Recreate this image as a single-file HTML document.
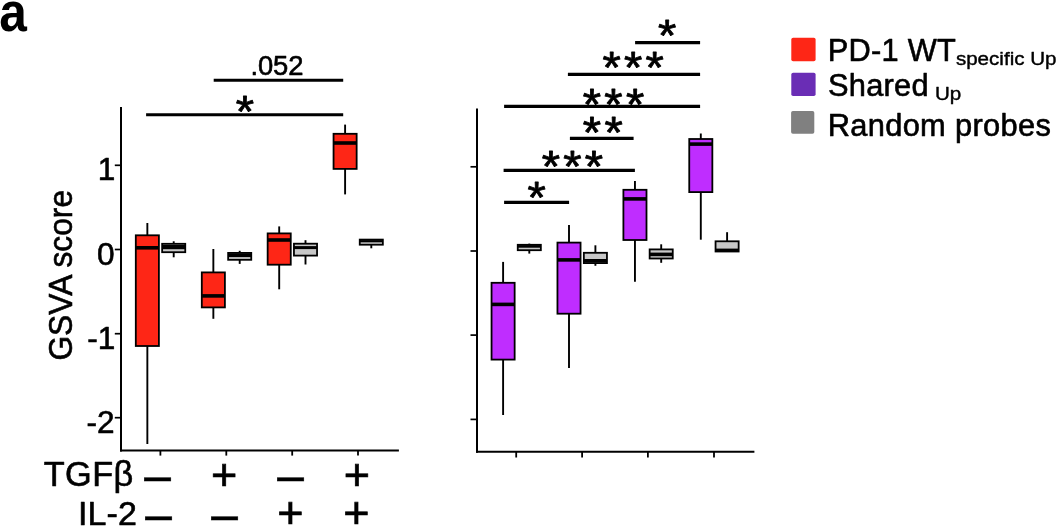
<!DOCTYPE html>
<html lang="en"><head><meta charset="utf-8"><title>Figure a</title>
<style>
html,body{margin:0;padding:0;background:#fff;}
body{width:1057px;height:526px;overflow:hidden;}
svg{display:block;font-family:"Liberation Sans", Arial, Helvetica, sans-serif;fill:#000;}
svg rect, svg line{shape-rendering:auto;}
</style></head><body>
<svg width="1057" height="526" viewBox="0 0 1057 526">
<rect x="0" y="0" width="1057" height="526" fill="#fff"/>
<line x1="121.0" y1="107" x2="121.0" y2="451.6" stroke="#000" stroke-width="2.0" />
<line x1="120.0" y1="450.6" x2="398.9" y2="450.6" stroke="#000" stroke-width="2.0" />
<line x1="114.8" y1="165.3" x2="121.0" y2="165.3" stroke="#000" stroke-width="1.7" />
<line x1="114.8" y1="249.5" x2="121.0" y2="249.5" stroke="#000" stroke-width="1.7" />
<line x1="114.8" y1="333.7" x2="121.0" y2="333.7" stroke="#000" stroke-width="1.7" />
<line x1="114.8" y1="417.7" x2="121.0" y2="417.7" stroke="#000" stroke-width="1.7" />
<line x1="160.4" y1="450.6" x2="160.4" y2="455.6" stroke="#000" stroke-width="1.8" />
<line x1="226.3" y1="450.6" x2="226.3" y2="455.6" stroke="#000" stroke-width="1.8" />
<line x1="292.2" y1="450.6" x2="292.2" y2="455.6" stroke="#000" stroke-width="1.8" />
<line x1="358.0" y1="450.6" x2="358.0" y2="455.6" stroke="#000" stroke-width="1.8" />
<text transform="translate(115.39999999999999,180.3)" font-size="31.6" text-anchor="end" font-weight="normal"  stroke="#000" stroke-width="0.6" stroke-linejoin="round">1</text>
<text transform="translate(114.6,264.5)" font-size="31.6" text-anchor="end" font-weight="normal"  stroke="#000" stroke-width="0.6" stroke-linejoin="round">0</text>
<text transform="translate(115.39999999999999,348.7)" font-size="31.6" text-anchor="end" font-weight="normal"  stroke="#000" stroke-width="0.6" stroke-linejoin="round">-1</text>
<text transform="translate(114.6,432.7)" font-size="31.6" text-anchor="end" font-weight="normal"  stroke="#000" stroke-width="0.6" stroke-linejoin="round">-2</text>
<line x1="147.35" y1="223" x2="147.35" y2="235.3" stroke="#000" stroke-width="1.9" />
<line x1="147.35" y1="346" x2="147.35" y2="444" stroke="#000" stroke-width="1.9" />
<rect x="135.79999999999998" y="235.3" width="23.10" height="110.70" fill="#fe2616" stroke="#000" stroke-width="1.8"/>
<line x1="135.79999999999998" y1="247.8" x2="158.9" y2="247.8" stroke="#000" stroke-width="3.6" />
<line x1="173.7" y1="241.3" x2="173.7" y2="243.8" stroke="#000" stroke-width="1.9" />
<line x1="173.7" y1="252.2" x2="173.7" y2="257.3" stroke="#000" stroke-width="1.9" />
<rect x="162.14999999999998" y="243.8" width="23.10" height="8.40" fill="#c8c8c8" stroke="#000" stroke-width="1.8"/>
<line x1="162.14999999999998" y1="247.0" x2="185.25" y2="247.0" stroke="#000" stroke-width="4.4" />
<line x1="213.35" y1="249" x2="213.35" y2="272.4" stroke="#000" stroke-width="1.9" />
<line x1="213.35" y1="307.4" x2="213.35" y2="318.8" stroke="#000" stroke-width="1.9" />
<rect x="201.79999999999998" y="272.4" width="23.10" height="35.00" fill="#fe2616" stroke="#000" stroke-width="1.8"/>
<line x1="201.79999999999998" y1="295.9" x2="224.9" y2="295.9" stroke="#000" stroke-width="3.6" />
<line x1="239.7" y1="250.8" x2="239.7" y2="252.9" stroke="#000" stroke-width="1.9" />
<line x1="239.7" y1="259.8" x2="239.7" y2="263.9" stroke="#000" stroke-width="1.9" />
<rect x="228.14999999999998" y="252.9" width="23.10" height="6.90" fill="#c8c8c8" stroke="#000" stroke-width="1.8"/>
<line x1="228.14999999999998" y1="255.2" x2="251.25" y2="255.2" stroke="#000" stroke-width="3.8" />
<line x1="279.2" y1="226.4" x2="279.2" y2="233.4" stroke="#000" stroke-width="1.9" />
<line x1="279.2" y1="264.7" x2="279.2" y2="289.3" stroke="#000" stroke-width="1.9" />
<rect x="267.65" y="233.4" width="23.10" height="31.30" fill="#fe2616" stroke="#000" stroke-width="1.8"/>
<line x1="267.65" y1="240" x2="290.75" y2="240" stroke="#000" stroke-width="3.6" />
<line x1="305.5" y1="240.2" x2="305.5" y2="243.7" stroke="#000" stroke-width="1.9" />
<line x1="305.5" y1="255.6" x2="305.5" y2="264.5" stroke="#000" stroke-width="1.9" />
<rect x="293.95" y="243.7" width="23.10" height="11.90" fill="#c8c8c8" stroke="#000" stroke-width="1.8"/>
<line x1="293.95" y1="247.6" x2="317.05" y2="247.6" stroke="#000" stroke-width="3" />
<line x1="345.1" y1="124.6" x2="345.1" y2="133.8" stroke="#000" stroke-width="1.9" />
<line x1="345.1" y1="168.9" x2="345.1" y2="194.4" stroke="#000" stroke-width="1.9" />
<rect x="333.55" y="133.8" width="23.10" height="35.10" fill="#fe2616" stroke="#000" stroke-width="1.8"/>
<line x1="333.55" y1="143.0" x2="356.65000000000003" y2="143.0" stroke="#000" stroke-width="3.6" />
<line x1="371.3" y1="244.7" x2="371.3" y2="248.3" stroke="#000" stroke-width="1.9" />
<rect x="359.75" y="239.6" width="23.10" height="5.10" fill="#c8c8c8" stroke="#000" stroke-width="1.8"/>
<line x1="359.75" y1="241.2" x2="382.85" y2="241.2" stroke="#000" stroke-width="2.2" />
<line x1="213.7" y1="80.3" x2="343.2" y2="80.3" stroke="#000" stroke-width="3.1" />
<line x1="146.1" y1="114.7" x2="343.2" y2="114.7" stroke="#000" stroke-width="3.1" />
<text transform="translate(250.4,75.4)" font-size="27.4" text-anchor="start" font-weight="normal"  stroke="#000" stroke-width="0.6" stroke-linejoin="round" textLength="53.0" lengthAdjust="spacing">.052</text>
<text transform="translate(246.43,126.88) scale(1,0.955)" font-size="47" text-anchor="middle" letter-spacing="3.27" stroke="#000" stroke-width="0.9" stroke-linejoin="round">*</text>
<line x1="477" y1="108.4" x2="477" y2="452.7" stroke="#000" stroke-width="2.0" />
<line x1="476.0" y1="451.7" x2="754.4" y2="451.7" stroke="#000" stroke-width="2.0" />
<line x1="470.5" y1="166.8" x2="477" y2="166.8" stroke="#000" stroke-width="1.7" />
<line x1="470.5" y1="251.0" x2="477" y2="251.0" stroke="#000" stroke-width="1.7" />
<line x1="470.5" y1="335.1" x2="477" y2="335.1" stroke="#000" stroke-width="1.7" />
<line x1="470.5" y1="419.4" x2="477" y2="419.4" stroke="#000" stroke-width="1.7" />
<line x1="516.2" y1="451.7" x2="516.2" y2="457.5" stroke="#000" stroke-width="1.8" />
<line x1="582.1" y1="451.7" x2="582.1" y2="457.5" stroke="#000" stroke-width="1.8" />
<line x1="647.9" y1="451.7" x2="647.9" y2="457.5" stroke="#000" stroke-width="1.8" />
<line x1="714.0" y1="451.7" x2="714.0" y2="457.5" stroke="#000" stroke-width="1.8" />
<line x1="503.1" y1="261.9" x2="503.1" y2="282.8" stroke="#000" stroke-width="1.9" />
<line x1="503.1" y1="359.6" x2="503.1" y2="415.0" stroke="#000" stroke-width="1.9" />
<rect x="491.55" y="282.8" width="23.10" height="76.80" fill="#bf2dff" stroke="#000" stroke-width="1.8"/>
<line x1="491.55" y1="304.4" x2="514.65" y2="304.4" stroke="#000" stroke-width="3.6" />
<line x1="529.3" y1="243.6" x2="529.3" y2="244.8" stroke="#000" stroke-width="1.9" />
<line x1="529.3" y1="250.2" x2="529.3" y2="253.6" stroke="#000" stroke-width="1.9" />
<rect x="517.75" y="244.8" width="23.10" height="5.40" fill="#c8c8c8" stroke="#000" stroke-width="1.8"/>
<line x1="517.75" y1="246.4" x2="540.8499999999999" y2="246.4" stroke="#000" stroke-width="2.6" />
<line x1="569.0" y1="225.1" x2="569.0" y2="242.6" stroke="#000" stroke-width="1.9" />
<line x1="569.0" y1="313.7" x2="569.0" y2="368.0" stroke="#000" stroke-width="1.9" />
<rect x="557.45" y="242.6" width="23.10" height="71.10" fill="#bf2dff" stroke="#000" stroke-width="1.8"/>
<line x1="557.45" y1="259.9" x2="580.55" y2="259.9" stroke="#000" stroke-width="3.6" />
<line x1="595.4" y1="245.3" x2="595.4" y2="252.8" stroke="#000" stroke-width="1.9" />
<line x1="595.4" y1="263.1" x2="595.4" y2="265.8" stroke="#000" stroke-width="1.9" />
<rect x="583.85" y="252.8" width="23.10" height="10.30" fill="#c8c8c8" stroke="#000" stroke-width="1.8"/>
<line x1="583.85" y1="260.8" x2="606.9499999999999" y2="260.8" stroke="#000" stroke-width="3.6" />
<line x1="634.95" y1="181.1" x2="634.95" y2="189.8" stroke="#000" stroke-width="1.9" />
<line x1="634.95" y1="240.0" x2="634.95" y2="281.8" stroke="#000" stroke-width="1.9" />
<rect x="623.4000000000001" y="189.8" width="23.10" height="50.20" fill="#bf2dff" stroke="#000" stroke-width="1.8"/>
<line x1="623.4000000000001" y1="198.9" x2="646.5" y2="198.9" stroke="#000" stroke-width="3.6" />
<line x1="661.2" y1="244.3" x2="661.2" y2="249.4" stroke="#000" stroke-width="1.9" />
<line x1="661.2" y1="258.5" x2="661.2" y2="262.8" stroke="#000" stroke-width="1.9" />
<rect x="649.6500000000001" y="249.4" width="23.10" height="9.10" fill="#c8c8c8" stroke="#000" stroke-width="1.8"/>
<line x1="649.6500000000001" y1="254.4" x2="672.75" y2="254.4" stroke="#000" stroke-width="3.6" />
<line x1="700.8" y1="133.5" x2="700.8" y2="139.0" stroke="#000" stroke-width="1.9" />
<line x1="700.8" y1="192.1" x2="700.8" y2="239.7" stroke="#000" stroke-width="1.9" />
<rect x="689.25" y="139.0" width="23.10" height="53.10" fill="#bf2dff" stroke="#000" stroke-width="1.8"/>
<line x1="689.25" y1="144.1" x2="712.3499999999999" y2="144.1" stroke="#000" stroke-width="3.6" />
<line x1="727.1" y1="232.2" x2="727.1" y2="241.3" stroke="#000" stroke-width="1.9" />
<rect x="715.5500000000001" y="241.3" width="23.10" height="10.20" fill="#c8c8c8" stroke="#000" stroke-width="1.8"/>
<line x1="715.5500000000001" y1="249.9" x2="738.65" y2="249.9" stroke="#000" stroke-width="2.6" />
<line x1="635.1" y1="42.6" x2="700.1" y2="42.6" stroke="#000" stroke-width="3.1" />
<line x1="567.9" y1="74.4" x2="700.1" y2="74.4" stroke="#000" stroke-width="3.1" />
<line x1="504.1" y1="106.4" x2="700.1" y2="106.4" stroke="#000" stroke-width="3.1" />
<line x1="569.9" y1="138.4" x2="633.6" y2="138.4" stroke="#000" stroke-width="3.1" />
<line x1="503.6" y1="170.4" x2="634.9" y2="170.4" stroke="#000" stroke-width="3.1" />
<line x1="504.1" y1="202.4" x2="569.1" y2="202.4" stroke="#000" stroke-width="3.1" />
<text transform="translate(668.83,50.58) scale(1,0.955)" font-size="47" text-anchor="middle" letter-spacing="3.27" stroke="#000" stroke-width="0.9" stroke-linejoin="round">*</text>
<text transform="translate(634.73,82.78) scale(1,0.955)" font-size="47" text-anchor="middle" letter-spacing="3.27" stroke="#000" stroke-width="0.9" stroke-linejoin="round">***</text>
<text transform="translate(615.13,120.18) scale(1,0.955)" font-size="47" text-anchor="middle" letter-spacing="3.27" stroke="#000" stroke-width="0.9" stroke-linejoin="round">***</text>
<text transform="translate(604.43,147.58) scale(1,0.955)" font-size="47" text-anchor="middle" letter-spacing="3.27" stroke="#000" stroke-width="0.9" stroke-linejoin="round">**</text>
<text transform="translate(574.03,182.48) scale(1,0.955)" font-size="47" text-anchor="middle" letter-spacing="3.27" stroke="#000" stroke-width="0.9" stroke-linejoin="round">***</text>
<text transform="translate(538.33,213.28) scale(1,0.955)" font-size="47" text-anchor="middle" letter-spacing="3.27" stroke="#000" stroke-width="0.9" stroke-linejoin="round">*</text>
<rect x="791.3" y="37.7" width="24.3" height="23.5" rx="1.8" fill="#fe2616"/>
<rect x="791.3" y="72.8" width="24.3" height="23.2" rx="1.8" fill="#6a2db5"/>
<rect x="791.1" y="110.9" width="23.2" height="22.9" rx="1.8" fill="#808080"/>
<text transform="translate(827.7,60.7)" font-size="30.8" text-anchor="start" font-weight="normal"  stroke="#000" stroke-width="0.6" stroke-linejoin="round" textLength="128.2" lengthAdjust="spacing">PD-1 WT</text>
<text transform="translate(955.9,65.0) scale(1,0.9)" font-size="20.4" text-anchor="start" font-weight="normal"  stroke="#000" stroke-width="0.45" stroke-linejoin="round" textLength="100.6" lengthAdjust="spacingAndGlyphs">specific Up</text>
<text transform="translate(828.1,96.0)" font-size="30.8" text-anchor="start" font-weight="normal"  stroke="#000" stroke-width="0.6" stroke-linejoin="round" textLength="100.5" lengthAdjust="spacing">Shared</text>
<text transform="translate(935.0,99.9) scale(1,0.9)" font-size="20.4" text-anchor="start" font-weight="normal"  stroke="#000" stroke-width="0.45" stroke-linejoin="round" textLength="26.3" lengthAdjust="spacingAndGlyphs">Up</text>
<text transform="translate(827.7,135.6)" font-size="30.8" text-anchor="start" font-weight="normal"  stroke="#000" stroke-width="0.6" stroke-linejoin="round" textLength="223.1" lengthAdjust="spacing">Random probes</text>
<text transform="translate(-0.64,30.9) scale(0.882,1)" font-size="56.3" text-anchor="start" font-weight="bold" >a</text>
<text transform="translate(71.9,360.6) rotate(-90) scale(0.943,1)" font-size="33.7" text-anchor="start" font-weight="normal"  stroke="#000" stroke-width="0.6" stroke-linejoin="round">GSVA score</text>
<text transform="translate(43.75,485.9)" font-size="34.3" text-anchor="start" font-weight="normal"  stroke="#000" stroke-width="0.6" stroke-linejoin="round" textLength="89.5" lengthAdjust="spacing">TGFβ</text>
<text transform="translate(77.9,524.7)" font-size="34.0" text-anchor="start" font-weight="normal"  stroke="#000" stroke-width="0.6" stroke-linejoin="round" textLength="59.1" lengthAdjust="spacing">IL-2</text>
<text x="144.30" y="491.62" font-size="47.8" stroke="#000" stroke-width="0.5">–</text>
<text x="210.96" y="489.76" font-size="45" stroke="#000" stroke-width="0.7">+</text>
<text x="277.30" y="492.32" font-size="47.8" stroke="#000" stroke-width="0.5">–</text>
<text x="343.66" y="489.76" font-size="45" stroke="#000" stroke-width="0.7">+</text>
<text x="145.20" y="530.62" font-size="47.8" stroke="#000" stroke-width="0.5">–</text>
<text x="211.20" y="530.72" font-size="47.8" stroke="#000" stroke-width="0.5">–</text>
<text x="277.16" y="528.16" font-size="45" stroke="#000" stroke-width="0.7">+</text>
<text x="343.26" y="528.16" font-size="45" stroke="#000" stroke-width="0.7">+</text>
</svg>
</body></html>
